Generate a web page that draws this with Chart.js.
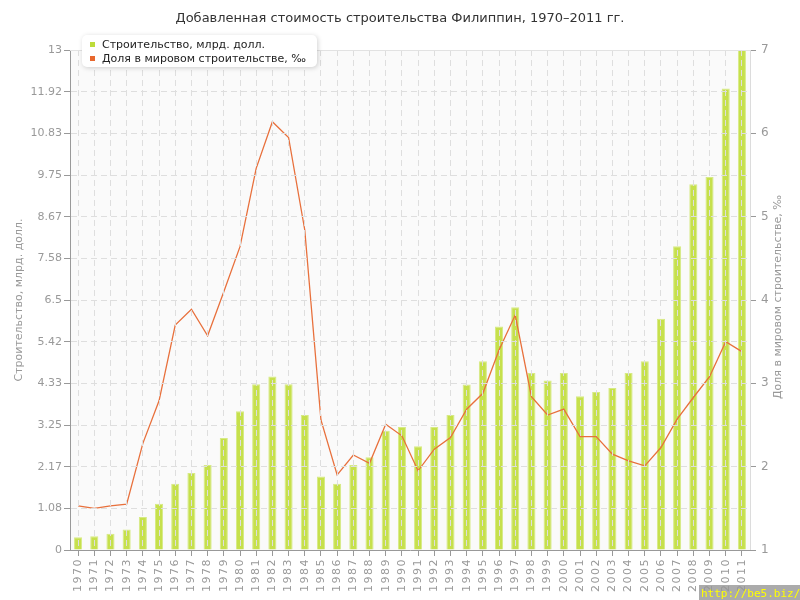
<!DOCTYPE html>
<html>
<head>
<meta charset="utf-8">
<script src="https://cdn.jsdelivr.net/npm/chart.js@4"></script>
<style>
  body { margin: 0; background: #fff; }
  canvas { display: block; }
</style>
</head>
<body>
<canvas id="myChart" width="800" height="600"></canvas>
<script>
var years = ['1970','1971','1972','1973','1974','1975','1976','1977','1978','1979',
             '1980','1981','1982','1983','1984','1985','1986','1987','1988','1989',
             '1990','1991','1992','1993','1994','1995','1996','1997','1998','1999',
             '2000','2001','2002','2003','2004','2005','2006','2007','2008','2009',
             '2010','2011'];
// млрд. долл.
var stroitelstvo = [0.33,0.36,0.42,0.53,0.86,1.20,1.72,2.00,2.21,2.91,
                    3.61,4.31,4.51,4.31,3.51,1.91,1.72,2.21,2.41,3.10,
                    3.20,2.70,3.20,3.51,4.30,4.91,5.81,6.31,4.60,4.41,
                    4.60,4.00,4.11,4.21,4.60,4.91,6.01,7.90,9.51,9.70,
                    12.0,13.0];
// промилле
var dolya = [1.53,1.50,1.53,1.55,2.28,2.79,3.70,3.89,3.57,4.10,
             4.64,5.58,6.14,5.95,4.84,2.56,1.90,2.14,2.04,2.51,
             2.37,1.95,2.21,2.35,2.69,2.88,3.40,3.82,2.84,2.62,
             2.69,2.36,2.36,2.15,2.07,2.01,2.23,2.57,2.83,3.08,
             3.50,3.38];
var leftTicks = ['0','1.08','2.17','3.25','4.33','5.42','6.5','7.58','8.67','9.75','10.83','11.92','13'];
var leftMax = 13;
var rightMin = 1, rightMax = 7;

var titleText = 'Добавленная стоимость строительства Филиппин, 1970–2011 гг.';
var seriesNames = ['Строительство, млрд. долл.', 'Доля в мировом строительстве, ‰'];
var seriesColors = ['#bddc3a', '#e8682e'];

var gridColor = '#dedede';
var tickColor = '#999';
var fnt = 'DejaVu Sans';

var decor = {
    id: 'decor',
    beforeDraw: function(chart) {
        var c = chart.ctx, a = chart.chartArea;
        c.save();
        c.fillStyle = '#fff';
        c.fillRect(0, 0, chart.width, chart.height);
        c.fillStyle = '#fafafa';
        c.fillRect(a.left, a.top, a.right - a.left, a.bottom - a.top);
        c.restore();
        // подписи годов разрежены
        c.letterSpacing = '1.5px';
    },
    beforeDatasetsDraw: function(chart) {
        chart.ctx.letterSpacing = '0px';
    },
    afterDraw: function(chart) {
        var c = chart.ctx, a = chart.chartArea;
        c.save();
        c.letterSpacing = '0px';
        // верхняя рамка
        c.strokeStyle = '#e2e2e2';
        c.lineWidth = 1;
        c.beginPath();
        c.moveTo(a.left, a.top + 0.5);
        c.lineTo(a.right, a.top + 0.5);
        c.stroke();

        // заголовок
        c.fillStyle = '#333';
        c.font = '13px ' + fnt;
        c.textAlign = 'center';
        c.textBaseline = 'alphabetic';
        c.fillText(titleText, 400, 22);

        // подписи осей
        c.fillStyle = '#999';
        c.font = '11px ' + fnt;
        c.save();
        c.translate(22, 300);
        c.rotate(-Math.PI / 2);
        c.fillText(seriesNames[0], 0, 0);
        c.restore();
        c.save();
        c.translate(781, 297);
        c.rotate(-Math.PI / 2);
        c.fillText(seriesNames[1], 0, 0);
        c.restore();

        // легенда
        c.save();
        c.shadowColor = 'rgba(0,0,0,0.18)';
        c.shadowBlur = 5;
        c.shadowOffsetX = 1;
        c.shadowOffsetY = 1;
        c.fillStyle = '#fff';
        c.beginPath();
        c.roundRect(82, 35, 235, 32, 5);
        c.fill();
        c.restore();
        c.textAlign = 'left';
        c.font = '11px ' + fnt;
        for (var i = 0; i < 2; i++) {
            c.fillStyle = seriesColors[i];
            c.fillRect(90, 42 + i * 14, 5, 5);
            c.fillStyle = '#222';
            c.fillText(seriesNames[i], 102, 48 + i * 14);
        }

        // водяной знак
        c.fillStyle = 'rgba(150,150,150,0.8)';
        c.fillRect(699, 585, 101, 15);
        c.fillStyle = '#ffff00';
        c.font = '11px DejaVu Sans Mono';
        c.fillText('http://be5.biz/', 701, 597);
        c.restore();
    }
};

var ctx = document.getElementById('myChart').getContext('2d');
var myChart = new Chart(ctx, {
    type: 'bar',
    data: {
        labels: years,
        datasets: [{
            type: 'line',
            label: seriesNames[1],
            data: dolya,
            yAxisID: 'y2',
            borderColor: '#e8703c',
            borderWidth: 1.3,
            pointRadius: 0,
            tension: 0,
            order: 0
        }, {
            label: seriesNames[0],
            data: stroitelstvo,
            yAxisID: 'y',
            backgroundColor: '#c6e04c',
            borderColor: '#d6ea84',
            borderWidth: 1,
            categoryPercentage: 1,
            barPercentage: 0.5,
            order: 1
        }]
    },
    options: {
        responsive: false,
        animation: false,
        layout: { padding: { top: 50, left: 0, right: 0, bottom: 0 } },
        plugins: {
            legend: { display: false },
            title: { display: false },
            tooltip: { enabled: false }
        },
        scales: {
            x: {
                offset: true,
                grid: { z: 1, color: gridColor, tickColor: tickColor, tickLength: 6, borderDash: [6, 4], tickBorderDash: [], offset: false },
                border: { z: 2, color: tickColor, dash: [6, 4] },
                ticks: { z: 0, color: tickColor, font: { family: fnt, size: 11 }, minRotation: 90, maxRotation: 90, autoSkip: false, padding: 2 },
                afterFit: function(s) { s.height = 50; }
            },
            y: {
                position: 'left',
                min: 0,
                max: leftMax,
                grid: { z: 1, color: gridColor, tickColor: tickColor, tickLength: 6, borderDash: [6, 4], tickBorderDash: [] },
                border: { z: 2, color: tickColor, dash: [6, 4] },
                ticks: {
                    z: 2,
                    color: tickColor,
                    font: { family: fnt, size: 11 },
                    padding: 2,
                    callback: function(v, i) { return leftTicks[i]; }
                },
                afterBuildTicks: function(s) {
                    s.ticks = leftTicks.map(function(t, i) {
                        return { value: i * leftMax / (leftTicks.length - 1) };
                    });
                },
                afterFit: function(s) { s.width = 70; }
            },
            y2: {
                position: 'right',
                min: rightMin,
                max: rightMax,
                grid: { drawOnChartArea: false, tickColor: tickColor, tickLength: 6 },
                border: { color: '#dcdcdc' },
                ticks: { color: tickColor, font: { family: fnt, size: 12 }, stepSize: 1, padding: 5 },
                afterFit: function(s) { s.width = 50; }
            }
        }
    },
    plugins: [decor]
});
</script>
</body>
</html>
